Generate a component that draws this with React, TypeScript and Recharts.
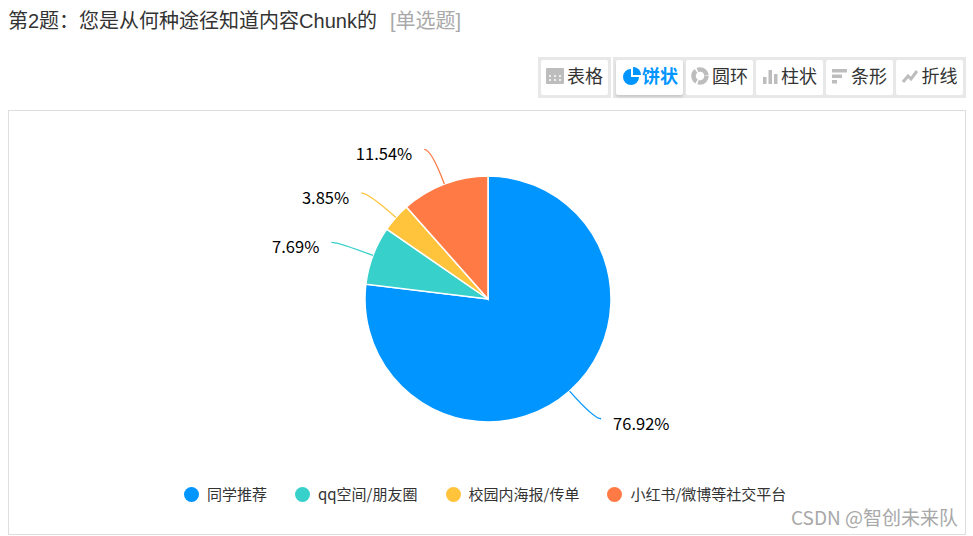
import React from 'react';
import { PieChart, Pie, Cell, Legend } from 'recharts';

const CATEGORIES = ['同学推荐', 'qq空间/朋友圈', '校园内海报/传单', '小红书/微博等社交平台'];
const PERCENTS = [76.92, 7.69, 3.85, 11.54];
const COLORS = ['#0095FF', '#37D0CB', '#FFC33C', '#FF7A45'];
const TOOLS = ['表格', '饼状', '圆环', '柱状', '条形', '折线'];

const FONT = '"Liberation Sans", "Noto Sans CJK SC", sans-serif';
const CJK_FONT = '"Noto Sans CJK SC", sans-serif';
const RAD = Math.PI / 180;

const data = CATEGORIES.map((name, i) => ({ name, value: PERCENTS[i] }));

// curved leader line + percent text, placed from the slice angle
const renderLabel = (props: any) => {
    const { cx, cy, midAngle, outerRadius, value, fill } = props;
    const sin = Math.sin(-midAngle * RAD);
    const cos = Math.cos(-midAngle * RAD);
    const sx = cx + outerRadius * cos;
    const sy = cy + outerRadius * sin;
    const mx = cx + (outerRadius + 37) * cos;
    const my = cy + (outerRadius + 37) * sin;
    const dir = cos >= 0 ? 1 : -1;
    const ex = mx + dir * 7;
    return (
        <g>
            <path d={`M${sx},${sy} Q${mx},${my} ${ex},${my}`} fill="none" stroke={fill} strokeWidth={1.3} />
            <text
                x={ex + dir * 12}
                y={my + 11}
                textAnchor={dir > 0 ? 'start' : 'end'}
                fontSize={16.5}
                fontFamily={CJK_FONT}
                fill="#000"
            >
                {value.toFixed(2)}%
            </text>
        </g>
    );
};

const renderLegend = ({ payload }: any) => (
    <div style={{ display: 'flex', paddingLeft: 175, fontFamily: CJK_FONT, fontSize: 15, color: '#333', lineHeight: '20px' }}>
        {(payload || []).map((item: any) => (
            <div key={item.value} style={{ display: 'flex', alignItems: 'center', marginRight: 28 }}>
                <span style={{ width: 15, height: 15, borderRadius: '50%', background: item.color, marginRight: 8 }} />
                <span>{item.value}</span>
            </div>
        ))}
    </div>
);

const ToolIcon = ({ name, color }: { name: string; color: string }) => {
    if (name === '表格') {
        return (
            <svg width="18" height="16" viewBox="0 0 18 16">
                <rect width="18" height="16" rx="1" fill={color} />
                <path d="M3 8h2M8 8h2M13 8h2M3 12h2M8 12h2M13 12h2" stroke="#fff" strokeWidth="1.5" />
            </svg>
        );
    }
    if (name === '饼状') {
        return (
            <svg width="18" height="18" viewBox="0 0 18 18" style={{ transform: 'translateX(2px)' }}>
                <path d="M8 2a8 8 0 1 0 8 8H8z" fill={color} />
                <path d="M10 0a8 8 0 0 1 8 8h-8z" fill={color} />
            </svg>
        );
    }
    if (name === '圆环') {
        return (
            <svg width="18" height="18" viewBox="0 0 18 18">
                <circle cx="9" cy="9" r="6.5" fill="none" stroke={color} strokeWidth="4.5" strokeDasharray="12 1.6" />
            </svg>
        );
    }
    if (name === '柱状') {
        return (
            <svg width="16" height="16" viewBox="0 0 16 16">
                <rect x="1" y="9" width="3.5" height="7" fill={color} />
                <rect x="6.5" y="2" width="3.5" height="14" fill={color} />
                <rect x="12" y="6" width="3.5" height="10" fill={color} />
            </svg>
        );
    }
    if (name === '条形') {
        return (
            <svg width="16" height="16" viewBox="0 0 16 16">
                <rect x="0" y="1" width="15" height="3.5" fill={color} />
                <rect x="0" y="6.5" width="10" height="3.5" fill={color} />
                <rect x="0" y="12" width="5" height="3.5" fill={color} />
            </svg>
        );
    }
    return (
        <svg width="17" height="16" viewBox="0 0 17 16">
            <path d="M1 14 L6 8 L9 11 L15 3" fill="none" stroke={color} strokeWidth="3" />
        </svg>
    );
};

const ToolButton = ({ name, active }: { name: string; active: boolean }) => (
    <div
        style={{
            width: 67,
            height: 35,
            background: '#fff',
            borderRadius: 2,
            display: 'flex',
            alignItems: 'center',
            justifyContent: 'center',
            gap: 3,
            fontSize: 18,
            fontWeight: active ? 700 : 400,
            color: active ? '#0095FF' : '#333',
            boxShadow: active ? '0 2px 3px rgba(0,0,0,0.15)' : 'none',
        }}
    >
        <span style={{ display: 'flex', marginTop: -3 }}>
            <ToolIcon name={name} color={active ? '#0095FF' : '#BDBDBD'} />
        </span>
        <span style={{ lineHeight: '18px', marginTop: -1 }}>{name}</span>
    </div>
);

const App: React.FC = () => (
    <div style={{ position: 'absolute', left: 0, top: 0, width: 973, height: 536, background: '#fff', overflow: 'hidden', fontFamily: FONT }}>
        <div style={{ position: 'absolute', left: 8, top: 9, fontSize: 20, lineHeight: '24px', color: '#333', whiteSpace: 'nowrap' }}>
            第2题：您是从何种途径知道内容Chunk的
            <span style={{ color: '#A9A9A9', marginLeft: 13 }}>[单选题]</span>
        </div>

        <div style={{ position: 'absolute', left: 538, top: 57, padding: 3, background: '#E8E8E8', display: 'flex' }}>
            <ToolButton name={TOOLS[0]} active={false} />
        </div>
        <div style={{ position: 'absolute', left: 613, top: 57, padding: 3, background: '#E8E8E8', display: 'flex', gap: 3 }}>
            {TOOLS.slice(1).map((t, i) => (
                <ToolButton key={t} name={t} active={i === 0} />
            ))}
        </div>

        <div style={{ position: 'absolute', left: 8, top: 110, width: 956, height: 423, border: '1px solid #DEDEDE' }}>
            <PieChart width={956} height={423} margin={{ top: 0, right: 0, bottom: 0, left: 0 }}>
                <Pie
                    data={data}
                    dataKey="value"
                    nameKey="name"
                    cx={479}
                    cy={188}
                    outerRadius={123}
                    startAngle={90}
                    endAngle={-270}
                    stroke="#fff"
                    strokeWidth={1.5}
                    label={renderLabel}
                    labelLine={false}
                    isAnimationActive={false}
                >
                    {data.map((d, i) => (
                        <Cell key={d.name} fill={COLORS[i]} />
                    ))}
                </Pie>
                <Legend
                    content={renderLegend}
                    itemSorter={null}
                    verticalAlign="bottom"
                    wrapperStyle={{ left: 0, width: 956, bottom: 30 }}
                />
            </PieChart>
        </div>

        <div style={{ position: 'absolute', right: 15, top: 505, fontSize: 19, lineHeight: '24px', color: '#A8A8A8', whiteSpace: 'nowrap', fontFamily: CJK_FONT }}>
            CSDN @智创未来队
        </div>
    </div>
);

export default App;
